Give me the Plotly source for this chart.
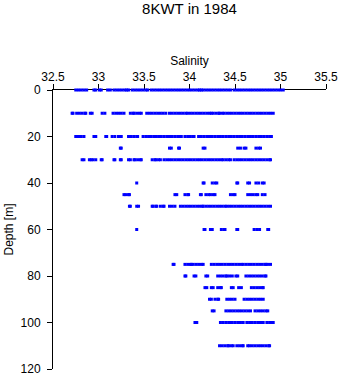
import plotly.graph_objects as go

depths = [0, 10, 20, 25, 30, 40, 45, 50, 60, 75, 80, 85, 90, 95, 100, 110]

sal_0 = [32.75, 32.78, 32.81, 32.84, 32.87, 32.95, 32.97, 33.01, 33.03, 33.10, 33.13,
         33.17, 33.20, 33.23, 33.26, 33.29, 33.31, 33.33, 33.37, 33.40, 33.43,
         33.46, 33.49, 33.52, 33.54, 33.58, 33.61, 33.64, 33.67, 33.70, 33.73, 33.76,
         33.79, 33.82, 33.85, 33.88, 33.91, 33.94, 33.97, 34.00, 34.03, 34.06, 34.09,
         34.11, 34.13, 34.15, 34.18, 34.21, 34.24, 34.27, 34.30, 34.33, 34.36, 34.39,
         34.42, 34.45, 34.49, 34.52, 34.55, 34.58, 34.61, 34.64, 34.67, 34.70, 34.73,
         34.76, 34.79, 34.82, 34.85, 34.88, 34.91, 34.94, 34.97, 35.00, 35.03]
sal_10 = [32.71, 32.72, 32.76, 32.79, 32.82, 32.85, 32.86, 32.91, 32.93, 33.04, 33.07,
          33.16, 33.19, 33.22, 33.25, 33.28, 33.35, 33.38, 33.39, 33.42, 33.45, 33.47,
          33.53, 33.56, 33.59, 33.62, 33.65, 33.68, 33.71, 33.74, 33.78, 33.81, 33.84,
          33.87, 33.90, 33.93, 33.96, 33.98, 34.01, 34.04, 34.07, 34.10, 34.13, 34.16,
          34.19, 34.22, 34.24, 34.26, 34.29, 34.32, 34.33, 34.36, 34.38, 34.41, 34.44,
          34.47, 34.50, 34.53, 34.56, 34.59, 34.62, 34.65, 34.68, 34.71, 34.74, 34.77,
          34.80, 34.83, 34.86, 34.89, 34.92]
sal_20 = [32.75, 32.78, 32.81, 32.84, 32.95, 32.97, 33.08, 33.09, 33.15, 33.18, 33.22,
          33.25, 33.33, 33.36, 33.39, 33.42, 33.43, 33.49, 33.52, 33.55, 33.58, 33.61,
          33.63, 33.66, 33.69, 33.72, 33.75, 33.78, 33.81, 33.84, 33.87, 33.90, 33.91,
          33.95, 33.98, 34.01, 34.04, 34.05, 34.10, 34.13, 34.16, 34.19, 34.22, 34.25,
          34.28, 34.31, 34.34, 34.37, 34.40, 34.43, 34.46, 34.49, 34.52, 34.55, 34.58,
          34.61, 34.64, 34.67, 34.70, 34.73, 34.76, 34.79, 34.82, 34.85, 34.88, 34.90]
sal_25 = [33.24, 33.25, 33.78, 33.80, 33.88, 33.89, 34.15, 34.17, 34.53, 34.56, 34.60,
          34.62, 34.73, 34.76, 34.78]
sal_30 = [32.82, 32.84, 32.90, 32.92, 32.94, 32.97, 33.03, 33.04, 33.17, 33.18, 33.24,
          33.25, 33.33, 33.35, 33.39, 33.40, 33.43, 33.46, 33.47, 33.59, 33.62, 33.63,
          33.66, 33.68, 33.72, 33.75, 33.78, 33.81, 33.84, 33.87, 33.90, 33.93, 33.96,
          33.99, 34.02, 34.05, 34.08, 34.11, 34.14, 34.17, 34.20, 34.23, 34.26, 34.29,
          34.32, 34.35, 34.37, 34.40, 34.43, 34.45, 34.49, 34.52, 34.55, 34.58, 34.61,
          34.64, 34.67, 34.70, 34.73, 34.76, 34.79, 34.82, 34.85, 34.88, 34.89]
sal_40 = [33.42, 34.15, 34.16, 34.25, 34.28, 34.30, 34.52, 34.53, 34.64, 34.66, 34.73,
          34.76, 34.80, 34.82]
sal_45 = [33.28, 33.30, 33.33, 33.34, 33.84, 33.86, 33.95, 33.98, 33.99, 34.12, 34.13,
          34.18, 34.21, 34.23, 34.26, 34.28, 34.45, 34.48, 34.50, 34.64, 34.67, 34.70,
          34.73, 34.75, 34.80, 34.83]
sal_50 = [33.34, 33.35, 33.42, 33.44, 33.59, 33.60, 33.63, 33.64, 33.68, 33.71, 33.72,
          33.78, 33.81, 33.84, 33.90, 33.93, 33.96, 33.99, 34.02, 34.05, 34.08, 34.11,
          34.14, 34.15, 34.18, 34.21, 34.24, 34.27, 34.30, 34.33, 34.36, 34.39, 34.41,
          34.44, 34.47, 34.50, 34.53, 34.56, 34.59, 34.62, 34.65, 34.68, 34.71, 34.74,
          34.77, 34.80, 34.83, 34.86, 34.89]
sal_60 = [33.42, 34.16, 34.17, 34.23, 34.25, 34.35, 34.38, 34.39, 34.52, 34.53, 34.71,
          34.74, 34.77, 34.86, 34.87]
sal_75 = [33.82, 33.83, 33.95, 33.98, 34.01, 34.02, 34.04, 34.07, 34.10, 34.13, 34.15,
          34.24, 34.27, 34.30, 34.33, 34.36, 34.39, 34.42, 34.45, 34.48, 34.51, 34.54,
          34.57, 34.59, 34.62, 34.65, 34.68, 34.71, 34.74, 34.77, 34.80, 34.83, 34.84,
          34.86, 34.89]
sal_80 = [33.95, 33.96, 34.05, 34.07, 34.18, 34.20, 34.31, 34.34, 34.37, 34.40, 34.41,
          34.44, 34.47, 34.51, 34.53, 34.62, 34.65, 34.68, 34.71, 34.74, 34.77, 34.80,
          34.83, 34.84]
sal_85 = [34.17, 34.19, 34.24, 34.26, 34.31, 34.34, 34.35, 34.46, 34.48, 34.54, 34.57,
          34.68, 34.71, 34.74, 34.77, 34.80, 34.81]
sal_90 = [34.22, 34.24, 34.28, 34.31, 34.32, 34.41, 34.44, 34.47, 34.50, 34.60, 34.63,
          34.66, 34.69, 34.72, 34.75, 34.78, 34.81]
sal_95 = [34.25, 34.27, 34.40, 34.43, 34.46, 34.49, 34.52, 34.55, 34.58, 34.61, 34.64,
          34.67, 34.72, 34.75, 34.78, 34.81, 34.84, 34.86]
sal_100 = [34.06, 34.08, 34.34, 34.37, 34.40, 34.43, 34.46, 34.47, 34.50, 34.53, 34.56,
           34.59, 34.63, 34.66, 34.69, 34.72, 34.75, 34.78, 34.81, 34.85, 34.88, 34.91,
           34.92]
sal_110 = [34.33, 34.36, 34.39, 34.42, 34.43, 34.46, 34.48, 34.52, 34.55, 34.58, 34.59,
           34.64, 34.66, 34.69, 34.72, 34.75, 34.78, 34.81, 34.84, 34.87, 34.88]

sal_rows = [sal_0, sal_10, sal_20, sal_25, sal_30, sal_40, sal_45, sal_50, sal_60,
            sal_75, sal_80, sal_85, sal_90, sal_95, sal_100, sal_110]

x_ticks = [32.5, 33, 33.5, 34, 34.5, 35, 35.5]
x_tick_labels = ["32.5", "33", "33.5", "34", "34.5", "35", "35.5"]
y_ticks = [0, 20, 40, 60, 80, 100, 120]

xs, ys = [], []
for d, row in zip(depths, sal_rows):
    xs.extend(row)
    ys.extend([d] * len(row))

fig = go.Figure(go.Scatter(
    x=xs, y=ys, mode="markers",
    marker=dict(symbol="square", size=3, color="#0000ff", line=dict(width=0)),
    cliponaxis=False, showlegend=False, hoverinfo="skip"))

font = "Liberation Sans, Arial, sans-serif"
fig.update_layout(
    width=346, height=384,
    margin=dict(l=48, r=14, t=90, b=8),
    paper_bgcolor="white", plot_bgcolor="white",
    font=dict(family=font, size=12, color="black"),
    title=dict(text="8KWT in 1984", x=0.5, xref="paper", y=0.978, yref="container",
               xanchor="center", yanchor="middle", font=dict(size=15, color="black")),
    xaxis=dict(side="top", range=[32.5, 35.5], tickvals=x_ticks, ticktext=x_tick_labels,
               ticks="outside", ticklen=5, tickcolor="black", showline=True,
               linecolor="black", linewidth=1, showgrid=False, zeroline=False,
               layer="below traces", ticklabelstandoff=-2,
               title=dict(text="Salinity", font=dict(size=12), standoff=2)),
    yaxis=dict(range=[120, 0], tickvals=y_ticks, ticks="outside", ticklen=5,
               tickcolor="black", showline=True, linecolor="black", linewidth=1,
               showgrid=False, zeroline=False, layer="below traces",
               ticklabelstandoff=4,
               title=dict(text="Depth [m]", font=dict(size=12), standoff=4)),
)

fig.write_html("out.html")
